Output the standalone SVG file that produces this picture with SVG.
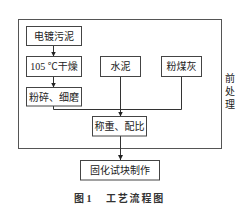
<svg xmlns="http://www.w3.org/2000/svg" width="248" height="208" viewBox="0 0 248 208">
<style>
.b{fill:#fff;stroke:#444;stroke-width:1}
.t{font-family:"Liberation Serif","Noto Sans CJK SC",serif;font-size:10px;fill:#222;text-anchor:middle}
.c{fill:none;stroke:#333;stroke-width:1}
.cap{font-family:"Liberation Serif","Noto Sans CJK SC",serif;font-size:10px;font-weight:bold;fill:#333}
</style>
<defs>
<marker id="a" markerWidth="6" markerHeight="6" refX="5" refY="3" orient="auto" markerUnits="userSpaceOnUse">
<path d="M0,0.5 L5,3 L0,5.5 Z" fill="#222"/>
</marker>
</defs>
<rect width="248" height="208" fill="#fff"/>
<g id="pretreatment">
<rect x="18.5" y="19.5" width="203" height="129" fill="none" stroke="#555" stroke-width="1"/>
<text class="t" x="230" y="82">前</text>
<text class="t" x="230" y="95">处</text>
<text class="t" x="230" y="108">理</text>
</g>
<g id="connectors">
<line class="c" x1="53.5" y1="45.5" x2="53.5" y2="56.5" marker-end="url(#a)"/>
<line class="c" x1="53.5" y1="76.5" x2="53.5" y2="87.5" marker-end="url(#a)"/>
<polyline class="c" points="53.5,106 53.5,109.5 181.5,109.5 181.5,76.5"/>
<line class="c" x1="120.5" y1="76.5" x2="120.5" y2="116.5" marker-end="url(#a)"/>
<line class="c" x1="120.5" y1="136" x2="120.5" y2="160" marker-end="url(#a)"/>
</g>
<g id="n1"><rect class="b" x="26.5" y="26.5" width="55" height="19"/><text class="t" x="54" y="39.5">电镀污泥</text></g>
<g id="n2"><rect class="b" x="26.5" y="56.5" width="55" height="20"/><text class="t" x="54" y="70">105 ℃干燥</text></g>
<g id="n3"><rect class="b" x="26.5" y="87.5" width="55" height="18.5"/><text class="t" x="54" y="100.5">粉碎、细磨</text></g>
<g id="n4"><rect class="b" x="100.5" y="56.5" width="40" height="20"/><text class="t" x="120.5" y="70">水泥</text></g>
<g id="n5"><rect class="b" x="161.5" y="56.5" width="40" height="20"/><text class="t" x="181.5" y="70">粉煤灰</text></g>
<g id="n6"><rect class="b" x="92.5" y="116.5" width="54" height="19.5"/><text class="t" x="119.5" y="130">称重、配比</text></g>
<g id="n7"><rect class="b" x="80.5" y="160.5" width="79" height="19.5"/><text class="t" x="120" y="174">固化试块制作</text></g>
<text class="cap" x="74" y="202">图 1</text>
<text class="cap" x="106" y="202" letter-spacing="1.8">工艺流程图</text>
</svg>
